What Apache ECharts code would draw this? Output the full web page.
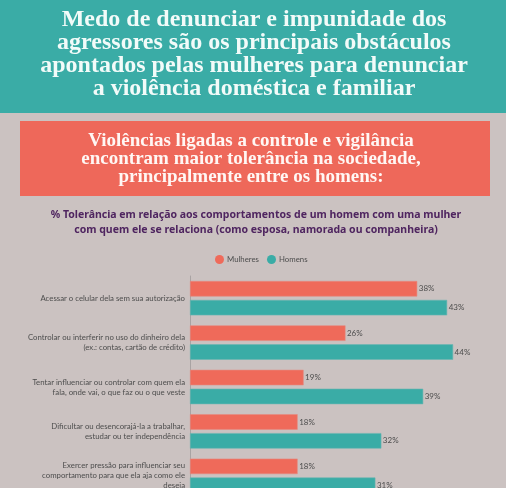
<!DOCTYPE html>
<html>
<head>
<meta charset="utf-8">
<style>
  html, body { margin: 0; padding: 0; background: #cbc2c1; }
  #main { width: 506px; height: 488px; }
</style>
<script src="https://cdn.jsdelivr.net/npm/echarts@6/dist/echarts.min.js"></script>
</head>
<body>
<div id="main"></div>
<script>
const categories = [
    'Acessar o celular dela sem sua autorização',
    'Controlar ou interferir no uso do dinheiro dela\n(ex.: contas, cartão de crédito)',
    'Tentar influenciar ou controlar com quem ela\nfala, onde vai, o que faz ou o que veste',
    'Dificultar ou desencorajá-la a trabalhar,\nestudar ou ter independência',
    'Exercer pressão para influenciar seu\ncomportamento para que ela aja como ele\ndeseja'
];
const mulheres = [38, 26, 19, 18, 18];
const homens = [43, 44, 39, 32, 31];
const headline = 'Medo de denunciar e impunidade dos\nagressores são os principais obstáculos\napontados pelas mulheres para denunciar\na violência doméstica e familiar';
const subhead = 'Violências ligadas a controle e vigilância\nencontram maior tolerância na sociedade,\nprincipalmente entre os homens:';
const question = '% Tolerância em relação aos comportamentos de um homem com uma mulher\ncom quem ele se relaciona (como esposa, namorada ou companheira)';

const teal = '#3aaca6';
const coral = '#ef6a5a';
const labelFont = 'Lato';

const myChart = echarts.init(document.getElementById('main'), null, { renderer: 'canvas' });

function barSeries(name, data, color, border) {
    return {
        name: name,
        type: 'bar',
        data: data,
        barWidth: 15.5,
        barGap: '22%',
        itemStyle: { color: color, borderColor: border, borderWidth: 0.6 },
        label: {
            show: true,
            position: 'right',
            distance: 1.5,
            formatter: '{c}%',
            fontFamily: labelFont,
            fontSize: 8,
            color: '#4d4d4d'
        }
    };
}

myChart.setOption({
    backgroundColor: '#cbc2c1',
    animation: false,
    graphic: [
        { type: 'rect', z: 0, shape: { x: 0, y: 0, width: 506, height: 113 }, style: { fill: teal } },
        { type: 'rect', z: 0, shape: { x: 20, y: 121, width: 470, height: 75 }, style: { fill: '#ee685a' } },
        { type: 'text', z: 1, x: 254, y: 8, style: {
            text: headline, fill: '#f2fbf9', align: 'center',
            font: 'bold 24px "Liberation Serif"', lineHeight: 23
        } },
        { type: 'text', z: 1, x: 251, y: 132.5, style: {
            text: subhead, fill: '#fff7f4', align: 'center',
            font: 'bold 19px "Liberation Serif"', lineHeight: 18
        } },
        { type: 'text', z: 1, x: 256, y: 208, style: {
            text: question, fill: '#4f2560', align: 'center',
            font: 'bold 10.5px "Noto Sans"', lineHeight: 15
        } }
    ],
    legend: {
        left: 210,
        top: 250,
        icon: 'circle',
        itemWidth: 9,
        itemHeight: 9,
        itemGap: 8,
        itemStyle: { borderWidth: 0 },
        textStyle: { fontFamily: labelFont, fontSize: 7.8, color: '#4d4d4d', padding: [0, 0, 0, -2] }
    },
    grid: { left: 190, top: 276, width: 299, height: 222, outerBoundsMode: 'none' },
    xAxis: { type: 'value', min: 0, max: 50, show: false },
    yAxis: {
        type: 'category',
        inverse: true,
        data: categories,
        axisTick: { show: false },
        axisLine: { lineStyle: { color: '#a9a3a3', width: 1 } },
        axisLabel: {
            margin: 5,
            fontFamily: labelFont,
            fontSize: 7.8,
            lineHeight: 10,
            color: '#4d4d4d',
            align: 'right'
        }
    },
    series: [
        barSeries('Mulheres', mulheres, coral, '#e58a80'),
        barSeries('Homens', homens, teal, '#69b5b1')
    ]
});
</script>
</body>
</html>
